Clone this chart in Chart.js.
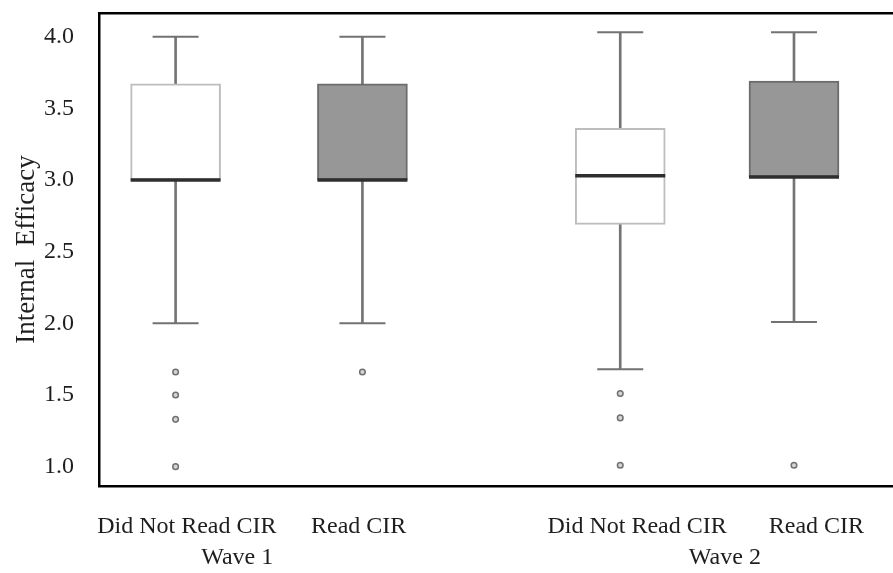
<!DOCTYPE html>
<html>
<head>
<meta charset="utf-8">
<title>Internal Efficacy</title>
<script src="https://cdn.jsdelivr.net/npm/chart.js@4.4.1/dist/chart.umd.min.js"></script>
<style>
  body { margin: 0; background: #fff; }
  #wrap { width: 893px; height: 573px; }
</style>
</head>
<body>
<div id="wrap"><canvas id="myChart"></canvas></div>
<script>
// data
const categories = ["Did Not Read CIR", "Read CIR", "Did Not Read CIR", "Read CIR"];
const xPos = [1, 2, 3.38, 4.31];
const xTickAt = [1.06, 1.98, 3.47, 4.43];
const whiskerLow = [2.0, 2.0, 1.68, 2.01];
const q1 = [3.0, 3.0, 2.69, 3.02];
const median = [3.0, 3.0, 3.03, 3.02];
const q3 = [3.67, 3.67, 3.36, 3.69];
const whiskerHigh = [4.0, 4.0, 4.03, 4.03];
const outliers = [[1.66, 1.5, 1.33, 1.0], [1.66], [1.51, 1.34, 1.01], [1.01]];
const readCir = [false, true, false, true];
const waveLabels = ["Wave 1", "Wave 2"];
const waveCenters = [1.33, 3.94];
const yTicks = [1.0, 1.5, 2.0, 2.5, 3.0, 3.5, 4.0];

const fontFamily = "'Liberation Serif', 'Times New Roman', serif";
const textColor = "#1e1e1e";

// build datasets for the boxes
function boxData(isRead) {
  const out = [];
  xPos.forEach((x, i) => {
    if (readCir[i] == isRead) out.push({ x: x, y: [q1[i], q3[i]] });
  });
  return out;
}

const whiskerData = xPos.map((x, i) => ({ x: x, y: [whiskerLow[i], whiskerHigh[i]] }));
const capData = [];
xPos.forEach((x, i) => {
  capData.push({ x: x, y: whiskerLow[i] });
  capData.push({ x: x, y: whiskerHigh[i] });
});
const medianData = xPos.map((x, i) => ({ x: x, y: median[i] }));
const outlierData = [];
outliers.forEach((list, i) => {
  list.forEach((v) => outlierData.push({ x: xPos[i], y: v }));
});

// no side padding for the horizontal axes
function noSidePadding(scale) {
  scale.paddingLeft = 0;
  scale.paddingRight = 0;
}

// labels "Wave 1" / "Wave 2" under the category ticks
const waveLabelPlugin = {
  id: "waveLabels",
  afterDraw(chart) {
    const ctx = chart.ctx;
    const xScale = chart.scales.x;
    ctx.save();
    ctx.font = "24px " + fontFamily;
    ctx.fillStyle = textColor;
    ctx.textAlign = "center";
    ctx.textBaseline = "middle";
    waveLabels.forEach((label, i) => {
      ctx.fillText(label, xScale.getPixelForValue(waveCenters[i]), xScale.bottom - 15);
    });
    ctx.restore();
  },
};

function plotGraph() {
  const ctx = document.getElementById("myChart").getContext("2d");
  new Chart(ctx, {
    type: "bar",
    data: {
      datasets: [
        {
          type: "scatter",
          data: medianData,
          pointStyle: "line",
          pointRadius: 45,
          borderColor: "#2e2e2e",
          borderWidth: 3.5,
          order: 1,
        },
        {
          type: "scatter",
          data: capData,
          pointStyle: "line",
          pointRadius: 23,
          borderColor: "#727272",
          borderWidth: 2,
          order: 2,
        },
        {
          type: "scatter",
          data: outlierData,
          pointStyle: "circle",
          pointRadius: 2.8,
          borderColor: "#707070",
          backgroundColor: "#d4d4d4",
          borderWidth: 1.5,
          order: 2,
        },
        {
          data: boxData(false),
          backgroundColor: "#ffffff",
          borderColor: "#bdbdbd",
          borderWidth: 2,
          borderSkipped: false,
          barThickness: 90,
          grouped: false,
          order: 3,
        },
        {
          data: boxData(true),
          backgroundColor: "#979797",
          borderColor: "#6c6c6c",
          borderWidth: 2,
          borderSkipped: false,
          barThickness: 90,
          grouped: false,
          order: 3,
        },
        {
          data: whiskerData,
          backgroundColor: "#747474",
          borderWidth: 0,
          barThickness: 2,
          grouped: false,
          order: 4,
        },
      ],
    },
    options: {
      responsive: true,
      maintainAspectRatio: false,
      animation: false,
      layout: { autoPadding: false, padding: { top: 13, left: 0, right: 0, bottom: 0 } },
      plugins: {
        legend: { display: false },
        tooltip: { enabled: false },
      },
      scales: {
        x: {
          type: "linear",
          position: "bottom",
          min: 0.59,
          max: 4.84,
          offset: false,
          grid: { display: false, drawTicks: false, offset: false },
          border: { display: true, color: "#000", width: 2.5 },
          afterBuildTicks: (scale) => {
            scale.ticks = xTickAt.map((v) => ({ value: v }));
          },
          afterFit: (scale) => {
            scale.height = 87;
            noSidePadding(scale);
          },
          ticks: {
            autoSkip: false,
            maxRotation: 0,
            padding: 26,
            color: textColor,
            font: { family: fontFamily, size: 24 },
            callback: (value, index) => categories[index],
          },
        },
        xTop: {
          type: "linear",
          position: "top",
          min: 0.59,
          max: 4.84,
          grid: { display: false, drawTicks: false },
          border: { display: true, color: "#000", width: 2.5 },
          ticks: { display: false },
          afterFit: (scale) => {
            scale.height = 0;
            noSidePadding(scale);
          },
        },
        y: {
          type: "linear",
          min: 0.865,
          max: 4.165,
          grid: { display: false, drawTicks: false },
          border: { display: true, color: "#000", width: 2.5 },
          afterBuildTicks: (scale) => {
            scale.ticks = yTicks.map((v) => ({ value: v }));
          },
          afterFit: (scale) => {
            scale.width = 99;
            scale.paddingTop = 0;
            scale.paddingBottom = 0;
          },
          ticks: {
            padding: 25,
            color: textColor,
            font: { family: fontFamily, size: 24 },
            callback: (value) => value.toFixed(1),
          },
          title: {
            display: true,
            text: "Internal  Efficacy",
            color: textColor,
            font: { family: fontFamily, size: 27 },
            padding: { top: 11, bottom: 0 },
          },
        },
      },
    },
    plugins: [waveLabelPlugin],
  });
}

document.addEventListener("DOMContentLoaded", plotGraph);
</script>
</body>
</html>
